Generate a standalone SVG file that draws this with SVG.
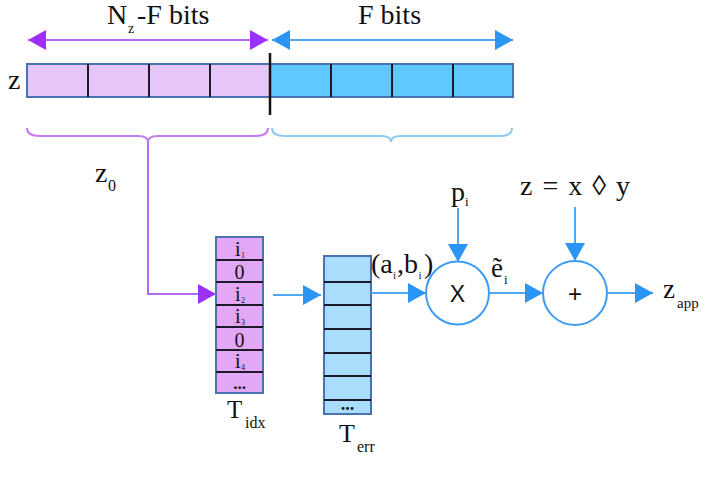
<svg xmlns="http://www.w3.org/2000/svg" width="712" height="480" viewBox="0 0 712 480">
<style>
.pline{stroke:#b06af2;stroke-width:2;fill:none}
.bline{stroke:#4ea6f4;stroke-width:2;fill:none}
.frame{stroke:#4a72b0;stroke-width:2}
.div{stroke:#1a1a2a;stroke-width:2}
</style>
<defs>
<marker id="pa" markerUnits="userSpaceOnUse" markerWidth="18" markerHeight="20" refX="18" refY="10" orient="auto-start-reverse"><path d="M0,0 L18,10 L0,20 Z" fill="#9b30ff"/></marker>
<marker id="ba" markerUnits="userSpaceOnUse" markerWidth="18" markerHeight="20" refX="18" refY="10" orient="auto-start-reverse"><path d="M0,0 L18,10 L0,20 Z" fill="#2b95f5"/></marker>
</defs>
<rect width="712" height="480" fill="#fff"/>
<g font-family="'Liberation Serif', 'Times New Roman', serif" fill="#111">

<g id="labels-top">
<text x="107" y="24" font-size="28">N</text>
<text x="128" y="33" font-size="14">z</text>
<text x="137" y="24" font-size="28">-F bits</text>
<text x="358" y="24" font-size="28">F bits</text>
</g>

<g id="z-register">
<text x="8" y="89" font-size="28">z</text>
<rect x="27" y="64" width="243" height="33" fill="#e6c5f8" class="frame"/>
<rect x="270" y="64" width="243" height="33" fill="#5ec8ff" class="frame"/>
<line x1="88" y1="64" x2="88" y2="97" class="div"/>
<line x1="149" y1="64" x2="149" y2="97" class="div"/>
<line x1="210" y1="64" x2="210" y2="97" class="div"/>
<line x1="331" y1="64" x2="331" y2="97" class="div"/>
<line x1="392" y1="64" x2="392" y2="97" class="div"/>
<line x1="453" y1="64" x2="453" y2="97" class="div"/>
<line x1="270" y1="53" x2="270" y2="115" stroke="#111" stroke-width="2.5"/>
</g>

<g id="braces">
<path d="M27,128 Q27,136 40,136 L138,136 Q148,136 148,142 Q148,136 158,136 L255,136 Q268,136 268,128" stroke="#c17cf0" stroke-width="2" fill="none"/>
<path d="M272,128 Q272,136 285,136 L381,136 Q391,136 391,142 Q391,136 401,136 L499,136 Q512,136 512,128" stroke="#8ccaf2" stroke-width="2" fill="none"/>
</g>

<g id="z0-label">
<text x="95" y="182" font-size="28">z</text>
<text x="108" y="191" font-size="16">0</text>
</g>

<g id="T-idx">
<rect x="216" y="237" width="47" height="156" fill="#e2a8f6" class="frame"/>
<line x1="216" y1="260" x2="263" y2="260" class="div"/>
<line x1="216" y1="282" x2="263" y2="282" class="div"/>
<line x1="216" y1="305" x2="263" y2="305" class="div"/>
<line x1="216" y1="327" x2="263" y2="327" class="div"/>
<line x1="216" y1="350" x2="263" y2="350" class="div"/>
<line x1="216" y1="372" x2="263" y2="372" class="div"/>
<text x="235" y="256" font-size="20">i</text><text x="241" y="258" font-size="8">1</text>
<text x="239.5" y="279" font-size="20" text-anchor="middle">0</text>
<text x="235" y="301" font-size="20">i</text><text x="241" y="303" font-size="8">2</text>
<text x="235" y="323" font-size="20">i</text><text x="241" y="325" font-size="8">3</text>
<text x="239.5" y="347" font-size="20" text-anchor="middle">0</text>
<text x="235" y="368" font-size="20">i</text><text x="241" y="370" font-size="8">4</text>
<text x="239.5" y="389" font-size="17" font-weight="bold" text-anchor="middle">...</text>
<text x="227" y="418" font-size="25">T</text>
<text x="245" y="428" font-size="16">idx</text>
</g>

<g id="T-err">
<rect x="324" y="256" width="47" height="158" fill="#a9ddfb" class="frame"/>
<line x1="324" y1="282" x2="371" y2="282" class="div"/>
<line x1="324" y1="305" x2="371" y2="305" class="div"/>
<line x1="324" y1="329" x2="371" y2="329" class="div"/>
<line x1="324" y1="353" x2="371" y2="353" class="div"/>
<line x1="324" y1="376" x2="371" y2="376" class="div"/>
<line x1="324" y1="400" x2="371" y2="400" class="div"/>
<text x="347.5" y="410" font-size="18" font-weight="bold" text-anchor="middle">...</text>
<text x="339" y="442" font-size="26">T</text>
<text x="357" y="452" font-size="16">err</text>
</g>

<g id="mult">
<circle cx="457.5" cy="293" r="31.5" fill="#fff" stroke="#3d9bf0" stroke-width="2"/>
<text x="457.5" y="302" font-size="23" text-anchor="middle" font-family="'Liberation Sans', Arial, sans-serif">X</text>
</g>

<g id="add">
<circle cx="575" cy="293" r="32" fill="#fff" stroke="#3d9bf0" stroke-width="2"/>
<text x="575" y="302" font-size="24" text-anchor="middle" font-family="'Liberation Sans', Arial, sans-serif">+</text>
</g>

<g id="inputs">
<text x="451" y="201" font-size="28">p</text>
<text x="465" y="206" font-size="13">i</text>
<text x="520" y="195" font-size="28" word-spacing="3">z = x ◊ y</text>
<text x="371" y="273" font-size="28">(a</text>
<text x="393" y="279" font-size="11">i</text>
<text x="397" y="273" font-size="28">,b</text>
<text x="418.5" y="279" font-size="11">i</text>
<text x="424" y="273" font-size="28">)</text>
<text x="491" y="277" font-size="27">ẽ</text>
<text x="504" y="284" font-size="13">i</text>
<text x="663" y="298" font-size="27">z</text>
<text x="677" y="308" font-size="15">app</text>
</g>
</g>

<g id="connectors">
<line x1="28" y1="40" x2="268" y2="40" class="pline" marker-start="url(#pa)" marker-end="url(#pa)"/>
<line x1="272" y1="40" x2="513" y2="40" class="bline" marker-start="url(#ba)" marker-end="url(#ba)"/>
<path d="M148,142 L148,294 L216,294" class="pline" marker-end="url(#pa)"/>
<line x1="273" y1="295" x2="321" y2="295" class="bline" marker-end="url(#ba)"/>
<line x1="371" y1="293" x2="426" y2="293" class="bline" marker-end="url(#ba)"/>
<line x1="458" y1="208" x2="458" y2="262" class="bline" marker-end="url(#ba)"/>
<line x1="489" y1="293" x2="543" y2="293" class="bline" marker-end="url(#ba)"/>
<line x1="575" y1="207" x2="575" y2="261" class="bline" marker-end="url(#ba)"/>
<line x1="607" y1="293" x2="653" y2="293" class="bline" marker-end="url(#ba)"/>
</g>
</svg>
